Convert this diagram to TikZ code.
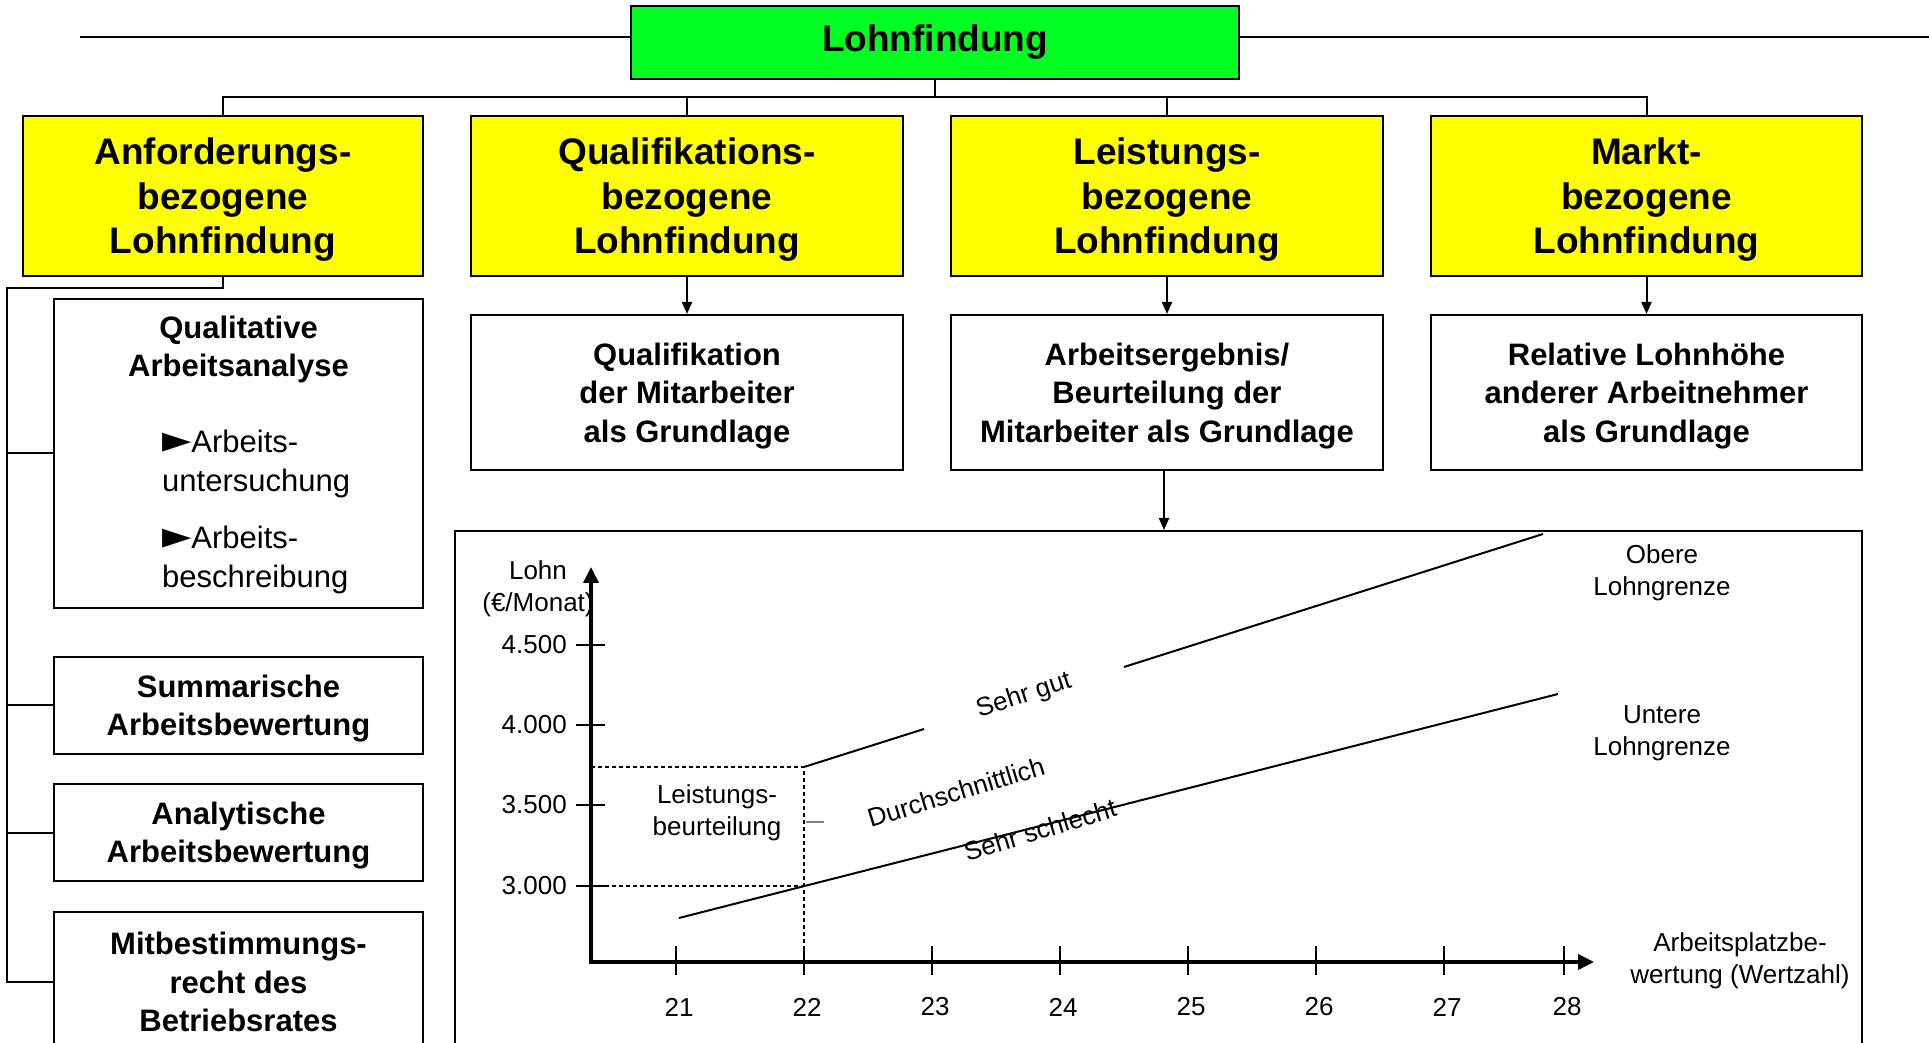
\documentclass[tikz,border=0pt]{standalone}
\usepackage{fontspec}
\setmainfont{Liberation Sans}
\newfontfamily\symfont{DejaVu Sans}
\usetikzlibrary{arrows.meta}
\definecolor{lgreen}{RGB}{0,255,32}
\definecolor{lyellow}{RGB}{255,255,0}
\begin{document}
\begin{tikzpicture}[x=1pt,y=1pt,
 box/.style={draw=black,line width=2pt,inner sep=0pt,align=center,text depth=0pt},
 ybox/.style={box,fill=lyellow,font=\fontsize{37}{44.5}\selectfont\bfseries,minimum height=160pt},
 wbox/.style={box,fill=white,font=\fontsize{31}{38.5}\selectfont\bfseries},
 btext/.style={font=\fontsize{31}{38.5}\selectfont\bfseries,align=center,inner sep=0pt},
 rtext/.style={font=\fontsize{31}{38.5}\selectfont,align=left,inner sep=0pt},
 conn/.style={line width=2pt},
 arr/.style={conn,-{Triangle[length=12pt,width=10pt]}},
 ctext/.style={font=\fontsize{26}{32}\selectfont,align=center,inner sep=0pt},
 curve/.style={line width=2pt},
 dsh/.style={line width=1.2pt,dash pattern=on 4pt off 3pt},
 tick/.style={line width=1.5pt},
 axis/.style={line width=3.5pt,-{Triangle[length=16pt,width=15pt]}},
]
\useasboundingbox (0,0) rectangle (1929,1042);
\fill[white] (0,0) rectangle (1929,1042);

% title
\node[draw=black,line width=2pt,inner sep=0pt,fill=lgreen,minimum width=608pt,minimum height=73pt,font=\fontsize{37}{42}\selectfont\bfseries] (top) at (935,999.5) {Lohnfindung};
\coordinate (tl) at (80,1005);
\coordinate (tr) at (1929,1005);
\draw[line width=2.5pt] (tl) -- (top.west |- tl);
\draw[line width=2.5pt] (top.east |- tr) -- (tr);

% yellow boxes
\node[ybox,minimum width=400pt] (y1) at (223,846) {Anforderungs-\\bezogene\\Lohnfindung};
\node[ybox,minimum width=432pt] (y2) at (687,846) {Qualifikations-\\bezogene\\Lohnfindung};
\node[ybox,minimum width=432pt] (y3) at (1167,846) {Leistungs-\\bezogene\\Lohnfindung};
\node[ybox,minimum width=431pt] (y4) at (1646.5,846) {Markt-\\bezogene\\Lohnfindung};

\coordinate (hub) at (935,945);
\draw[conn] (top.south) -- (hub);
\draw[conn] (y1.north) |- (hub);
\draw[conn] (y2.north) |- (hub);
\draw[conn] (y3.north) |- (hub);
\draw[conn] (y4.north) |- (hub);

% second row
\node[wbox,minimum width=432pt,minimum height=155pt] (b2) at (687,649.5) {Qualifikation\\der Mitarbeiter\\als Grundlage};
\node[wbox,minimum width=432pt,minimum height=155pt] (b3) at (1167,649.5) {Arbeitsergebnis/\\Beurteilung der\\Mitarbeiter als Grundlage};
\node[wbox,minimum width=431pt,minimum height=155pt] (b4) at (1646.5,649.5) {Relative Lohnhöhe\\anderer Arbeitnehmer\\als Grundlage};
\draw[arr] (y2.south) -- (b2.north);
\draw[arr] (y3.south) -- (b3.north);
\draw[arr] (y4.south) -- (b4.north);

% left column
\node[box,minimum width=369pt,minimum height=309pt] (l1) at (238.5,588.5) {};
\node[btext] (l1t) at (238.5,692.5) {Qualitative\\Arbeitsanalyse};
\node[rtext,anchor=west] (l1a) at (162,578) {{\symfont\fontsize{38}{38}\selectfont ►}Arbeits-\\untersuchung};
\node[rtext,anchor=west] (l1b) at (162,482) {{\symfont\fontsize{38}{38}\selectfont ►}Arbeits-\\beschreibung};
\node[wbox,minimum width=369pt,minimum height=97pt] (l2) at (238.5,336.5) {Summarische\\Arbeitsbewertung};
\node[wbox,minimum width=369pt,minimum height=97pt] (l3) at (238.5,209.5) {Analytische\\Arbeitsbewertung};
\node[wbox,minimum width=369pt,minimum height=140pt] (l4) at (238.5,60) {Mitbestimmungs-\\recht des\\Betriebsrates};

\coordinate (lb) at (7,754);
\draw[conn] (y1.south) |- (lb) |- (l4.west);
\draw[conn] (l1.west -| lb) -- (l1.west);
\draw[conn] (l2.west -| lb) -- (l2.west);
\draw[conn] (l3.west -| lb) -- (l3.west);

% chart frame
\node[draw,line width=2pt,minimum width=1407pt,minimum height=521pt,inner sep=0pt] (chart) at (1158.5,250.5) {};
\draw[arr] ([xshift=-3pt]b3.south) -- ([xshift=-3pt]b3.south |- chart.north);

% axes
\coordinate (O) at (591,80);
\coordinate (ytip) at (591,475);
\coordinate (xtip) at (1594,80);
\draw[axis] (591,78.25) -- (ytip);
\draw[axis] (O) -- (xtip);

\foreach \yy/\lab in {397/4.500,317/4.000,237/3.500,156/3.000}{
  \draw[tick] (576,\yy) -- (605,\yy);
  \node[ctext,anchor=east] (yl\yy) at (567,\yy) {\lab};
}
\foreach \xx/\lab in {676/21,804/22,932/23,1060/24,1188/25,1316/26,1444/27,1564/28}{
  \draw[tick] (\xx,67) -- (\xx,96);
  \node[ctext] (xl\lab) at (\xx+3,35) {\lab};
}

\node[ctext] (ylabel) at (538,453) {Lohn\\(€/Monat)};
\node[ctext] (xlabel) at (1740,81) {Arbeitsplatzbe-\\wertung (Wertzahl)};

% dashed helper lines
\draw[dsh] (591,275) -- (804,275) -- (804,80);
\draw[dsh] (591,156) -- (804,156);
\draw[gray,line width=1.5pt] (806,220) -- (824,220);

% wage lines
\draw[curve] (679,124) -- (1558,348);
\draw[curve] (804,275) -- (924,313);
\draw[curve] (1124,375) -- (1543,508);

\node[ctext] (leist) at (717,229) {Leistungs-\\beurteilung};
\node[ctext,rotate=18] (sgut) at (1024,346) {Sehr gut};
\node[ctext,rotate=17] (durch) at (956,250) {Durchschnittlich};
\node[ctext,rotate=17] (sschl) at (1040,212) {Sehr schlecht};
\node[ctext] (obere) at (1662,469) {Obere\\Lohngrenze};
\node[ctext] (untere) at (1662,309) {Untere\\Lohngrenze};
\end{tikzpicture}
\end{document}
